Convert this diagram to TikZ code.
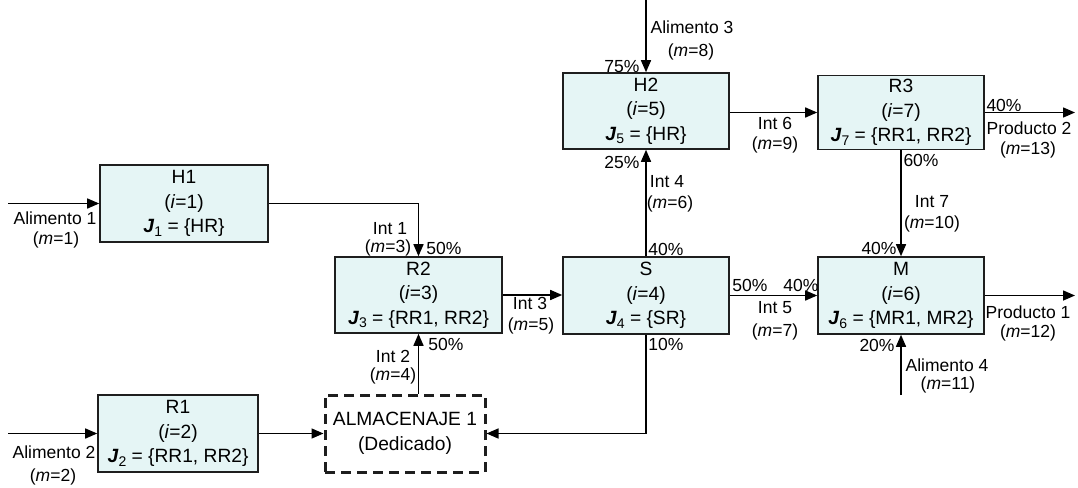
\documentclass[tikz,border=0pt]{standalone}
\usepackage{fontspec}
\setmainfont{Liberation Sans}
\usetikzlibrary{arrows.meta}
\definecolor{boxfill}{RGB}{229,245,245}
\definecolor{edge}{RGB}{30,30,30}
\newcommand\fs{\fontsize{17.5}{22}\selectfont}
\newcommand\bfs{\fontsize{19.2}{24.5}\selectfont}
\newcommand\jsub[1]{\textbf{\textit{J}}\raisebox{-0.35ex}{\fontsize{14}{14}\selectfont #1}}
\tikzset{
  unitbox/.style={draw=edge, line width=1.6pt, fill=boxfill, minimum width=166pt,
    minimum height=76pt, align=center, inner sep=0pt, font=\bfs},
  storebox/.style={draw=edge, line width=3pt, dash pattern=on 10pt off 6pt,
    minimum width=160pt, minimum height=77pt, align=center, inner sep=0pt, font=\bfs},
  flow/.style={draw=black, line width=1.5pt, -{Triangle[length=12pt,width=10pt]}},
  lbl/.style={inner sep=0pt, font=\fs}
}
\begin{document}
\begin{tikzpicture}[x=1pt,y=-1pt]
\useasboundingbox (0,0) rectangle (1078,487);

% units
\node[unitbox, minimum width=168pt, minimum height=77pt] (h1) at (184,203.5) {H1\\(\textit{i}=1)\\\jsub{1} = \{HR\}};
\node[unitbox, minimum width=160pt, minimum height=77pt] (r1) at (178,433.5) {R1\\(\textit{i}=2)\\\jsub{2} = \{RR1, RR2\}};
\node[storebox] (alm) at (405,433.5) {ALMACENAJE 1\\(Dedicado)};
\node[unitbox, minimum width=167pt] (r2) at (418.5,295) {R2\\(\textit{i}=3)\\\jsub{3} = \{RR1, RR2\}};
\node[unitbox, minimum height=77pt] (s) at (646,295.5) {S\\(\textit{i}=4)\\\jsub{4} = \{SR\}};
\node[unitbox] (h2) at (646,111) {H2\\(\textit{i}=5)\\\jsub{5} = \{HR\}};
\node[unitbox, minimum height=74pt] (r3) at (901,112.5) {R3\\(\textit{i}=7)\\\jsub{7} = \{RR1, RR2\}};
\node[unitbox, minimum height=77pt] (m) at (901,295.5) {M\\(\textit{i}=6)\\\jsub{6} = \{MR1, MR2\}};

% free ends
\coordinate (a1) at (8,203.5);
\coordinate (a2) at (8,433.5);
\coordinate (a3) at (646,0);
\coordinate (a4) at (901,395);
\coordinate (p1) at (1075,295.5);
\coordinate (p2) at (1075,112.5);

% connectors
\draw[flow] (a1) -- (h1.west);
\draw[flow] (a2) -- (r1.west);
\draw[flow] (h1.east) -| (r2.north);
\draw[flow] (r1.east) -- (alm.west);
\draw[flow] (r2.south |- alm.north) -- (r2.south);
\draw[flow] (r2.east) -- (r2.east -| s.west);
\draw[flow] (s.south) |- (alm.east);
\draw[flow] (s.north) -- (h2.south);
\draw[flow] (a3) -- (h2.north);
\draw[flow] (h2.east |- r3.west) -- (r3.west);
\draw[flow] (r3.east) -- (p2);
\draw[flow] (r3.south) -- (m.north);
\draw[flow] (s.east) -- (m.west);
\draw[flow] (m.east) -- (p1);
\draw[flow] (a4) -- (m.south);

% labels
\node[lbl] (l1) at (55,218) {Alimento 1};
\node[lbl] (l2) at (56,240) {(\textit{m}=1)};
\node[lbl] (l3) at (54,452) {Alimento 2};
\node[lbl] (l4) at (53,477) {(\textit{m}=2)};
\node[lbl] (l5) at (390,229) {Int 1};
\node[lbl] (l6) at (388,248) {(\textit{m}=3)};
\node[lbl] (l7) at (444,248) {50\%};
\node[lbl] (l8) at (393,356) {Int 2};
\node[lbl] (l9) at (393,376) {(\textit{m}=4)};
\node[lbl] (l10) at (446,344) {50\%};
\node[lbl] (l11) at (530,303) {Int 3};
\node[lbl] (l12) at (531,326) {(\textit{m}=5)};
\node[lbl] (l13) at (667,182) {Int 4};
\node[lbl] (l14) at (670,204) {(\textit{m}=6)};
\node[lbl] (l15) at (666,249) {40\%};
\node[lbl] (l16) at (666,344) {10\%};
\node[lbl] (l17) at (750,285) {50\%};
\node[lbl] (l18) at (801,285) {40\%};
\node[lbl] (l19) at (775,308) {Int 5};
\node[lbl] (l20) at (775,332) {(\textit{m}=7)};
\node[lbl] (l21) at (692,27) {Alimento 3};
\node[lbl] (l22) at (691,52) {(\textit{m}=8)};
\node[lbl] (l23) at (622,67) {75\%};
\node[lbl] (l24) at (622,162) {25\%};
\node[lbl] (l25) at (775,123) {Int 6};
\node[lbl] (l26) at (775,145) {(\textit{m}=9)};
\node[lbl] (l27) at (1004,105) {40\%};
\node[lbl] (l28) at (1029,128) {Producto 2};
\node[lbl] (l29) at (1028,150) {(\textit{m}=13)};
\node[lbl] (l30) at (921,160) {60\%};
\node[lbl] (l31) at (932,202) {Int 7};
\node[lbl] (l32) at (932,224) {(\textit{m}=10)};
\node[lbl] (l33) at (879,248) {40\%};
\node[lbl] (l34) at (1028,312) {Producto 1};
\node[lbl] (l35) at (1028,333) {(\textit{m}=12)};
\node[lbl] (l36) at (877,345) {20\%};
\node[lbl] (l37) at (947,365) {Alimento 4};
\node[lbl] (l38) at (948,385) {(\textit{m}=11)};
\end{tikzpicture}
\end{document}
